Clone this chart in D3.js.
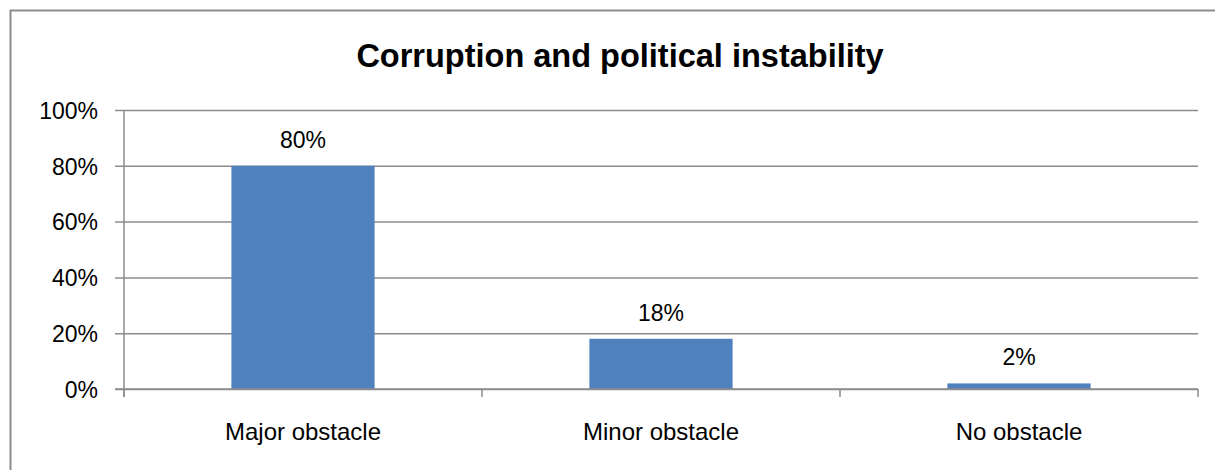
<!DOCTYPE html>
<html>
<head>
<meta charset="utf-8">
<script src="https://cdn.jsdelivr.net/npm/d3@7"></script>
<style>
  body { margin: 0; background: #fff; }
  text { font-family: "Liberation Sans", Arial, sans-serif; fill: #000; }
</style>
</head>
<body>
<div id="chart"></div>
<script>
var categories = ['Major obstacle', 'Minor obstacle', 'No obstacle'];
var values = [80, 18, 2];
var yTicks = [0, 20, 40, 60, 80, 100];
var title = 'Corruption and political instability';

var width = 1215, height = 470;
var plotLeft = 124, plotRight = 1198, plotTop = 110, plotBottom = 389;

var svg = d3.select('#chart').append('svg')
    .attr('width', width)
    .attr('height', height);

// outer frame (runs off the right and bottom edges)
svg.append('rect')
    .attr('x', 10.5).attr('y', 10.5)
    .attr('width', width + 20).attr('height', height + 20)
    .style('fill', 'none')
    .style('stroke', '#8c8c8c')
    .style('stroke-width', 2);

svg.append('text')
    .attr('x', (plotLeft + plotRight) / 2 - 41)
    .attr('y', 67)
    .attr('text-anchor', 'middle')
    .style('font-size', '32.5px')
    .style('font-weight', 'bold')
    .text(title);

var x = d3.scaleBand()
    .domain(categories)
    .range([plotLeft, plotRight])
    .paddingInner(0.6)
    .paddingOuter(0.3);

var y = d3.scaleLinear()
    .domain([0, 100])
    .range([plotBottom, plotTop]);

// gridlines + y ticks
var yAxis = d3.axisLeft(y)
    .tickValues(yTicks)
    .tickSize(-(plotRight - plotLeft))
    .tickSizeOuter(0)
    .tickPadding(26)
    .tickFormat(function(d) { return d + '%'; });

var gy = svg.append('g')
    .attr('transform', 'translate(' + plotLeft + ',0)')
    .call(yAxis);
gy.select('.domain').remove();
gy.selectAll('.tick line')
    .attr('x1', -9)
    .style('stroke', '#8c8c8c')
    .style('stroke-width', 1.5);
gy.selectAll('.tick text')
    .style('font-size', '23px')
    .attr('dy', '0.36em')
    .style('font-family', '"Liberation Sans", Arial, sans-serif')
    .style('fill', '#000');

// bars
svg.selectAll('rect.bar')
    .data(values)
    .enter().append('rect')
    .attr('class', 'bar')
    .attr('x', function(d, i) { return x(categories[i]); })
    .attr('y', function(d) { return y(d); })
    .attr('width', x.bandwidth())
    .attr('height', function(d) { return y(0) - y(d); })
    .style('fill', '#4f81bd');

// value labels
svg.selectAll('text.val')
    .data(values)
    .enter().append('text')
    .attr('class', 'val')
    .attr('x', function(d, i) { return x(categories[i]) + x.bandwidth() / 2; })
    .attr('y', function(d) { return y(d) - 18; })
    .attr('text-anchor', 'middle')
    .style('font-size', '23px')
    .text(function(d) { return d + '%'; });

// axes lines
svg.append('line')
    .attr('x1', plotLeft).attr('x2', plotLeft)
    .attr('y1', plotTop).attr('y2', plotBottom + 8)
    .style('stroke', '#8c8c8c').style('stroke-width', 1.5);
svg.append('line')
    .attr('x1', plotLeft - 9).attr('x2', plotRight)
    .attr('y1', plotBottom).attr('y2', plotBottom)
    .style('stroke', '#8c8c8c').style('stroke-width', 1.5);

// category boundary ticks
var bounds = d3.range(categories.length + 1).map(function(i) { return plotLeft + i * x.step(); });
svg.selectAll('line.xtick')
    .data(bounds)
    .enter().append('line')
    .attr('class', 'xtick')
    .attr('x1', function(d) { return d; }).attr('x2', function(d) { return d; })
    .attr('y1', plotBottom).attr('y2', plotBottom + 8)
    .style('stroke', '#8c8c8c').style('stroke-width', 1.5);

// category labels
svg.selectAll('text.cat')
    .data(categories)
    .enter().append('text')
    .attr('class', 'cat')
    .attr('x', function(d) { return x(d) + x.bandwidth() / 2; })
    .attr('y', 440)
    .attr('text-anchor', 'middle')
    .style('font-size', '24px')
    .text(function(d) { return d; });
</script>
</body>
</html>
